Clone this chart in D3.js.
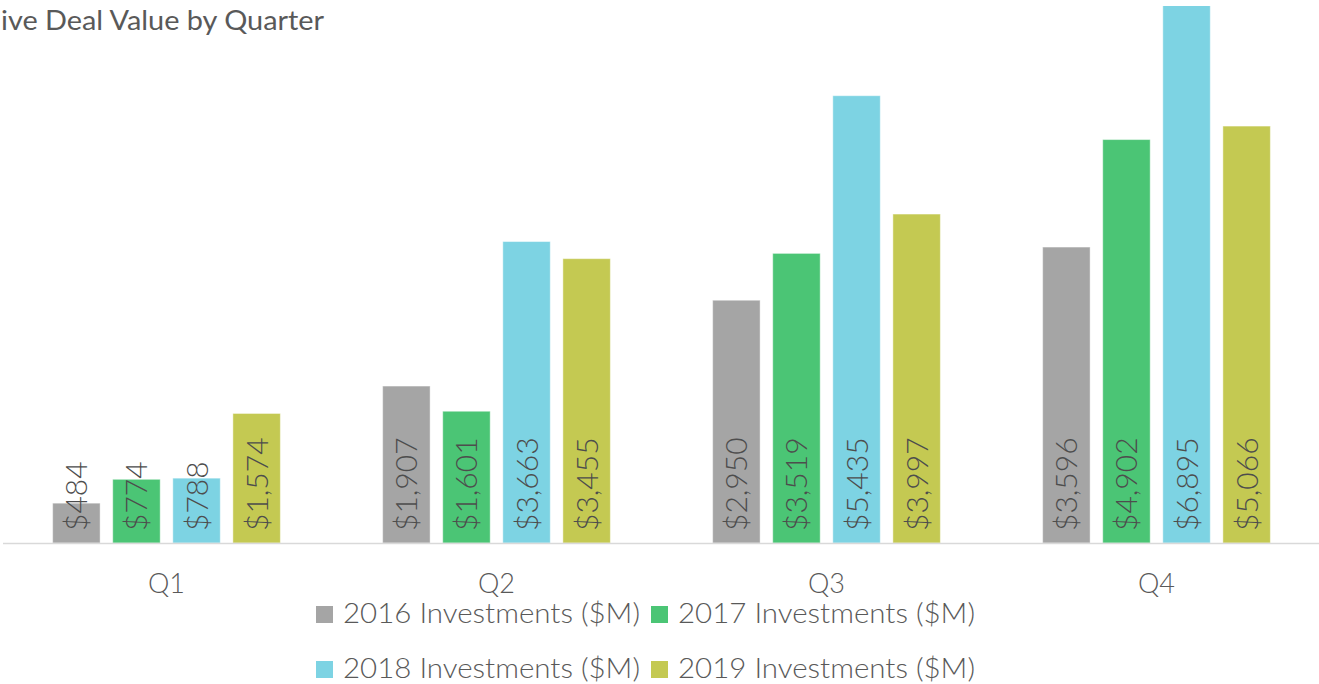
<!DOCTYPE html>
<html>
<head>
<meta charset="utf-8">
<script src="https://cdn.jsdelivr.net/npm/d3@7"></script>
<style>
  body { margin: 0; background: #fff; }
  svg { display: block; font-family: "Lato", "Open Sans", sans-serif; }
</style>
</head>
<body>
<div id="chart-area"></div>
<script>
// Deal value by quarter, one series per year
var quarters = ['Q1', 'Q2', 'Q3', 'Q4'];
var seriesNames = ['2016 Investments ($M)', '2017 Investments ($M)', '2018 Investments ($M)', '2019 Investments ($M)'];
var values2016 = [484, 1907, 2950, 3596];
var values2017 = [774, 1601, 3519, 4902];
var values2018 = [788, 3663, 5435, 6895];
var values2019 = [1574, 3455, 3997, 5066];
var seriesColors = ['#a5a5a5', '#4bc575', '#7dd3e3', '#c4c952'];

var allValues = [values2016, values2017, values2018, values2019];

var outerWidth = 1319;
var outerHeight = 684;
var baseY = 543;
var plotTop = 6;

var svg = d3.select('#chart-area').append('svg')
            .attr('width', outerWidth)
            .attr('height', outerHeight);

// clip so the tallest bar stops at the plot top
svg.append('clipPath').attr('id', 'plot-clip')
   .append('rect')
   .attr('x', 0).attr('y', plotTop)
   .attr('width', outerWidth).attr('height', baseY - plotTop + 1);

var x0 = d3.scaleBand()
           .domain(quarters)
           .range([1.5, 1321.5])
           .paddingInner(0.31)
           .paddingOuter(0.155);

var x1 = d3.scaleBand()
           .domain(seriesNames)
           .range([0, x0.bandwidth()])
           .paddingInner(0.21);

var yScale = d3.scaleLinear()
               .domain([0, 6525])
               .range([baseY, plotTop]);

var color = d3.scaleOrdinal().domain(seriesNames).range(seriesColors);

// title (the visible part of the cropped original)
svg.append('text')
   .attr('x', 1)
   .attr('y', 30)
   .attr('font-size', '27px')
   .attr('fill', '#595959')
   .attr('textLength', 323)
   .attr('lengthAdjust', 'spacingAndGlyphs')
   .text('ive Deal Value by Quarter');

var data = [];
quarters.forEach(function(q, qi) {
  seriesNames.forEach(function(s, si) {
    data.push({ quarter: q, series: s, value: allValues[si][qi] });
  });
});

var barsG = svg.append('g').attr('clip-path', 'url(#plot-clip)');

barsG.selectAll('rect')
     .data(data)
     .enter().append('rect')
     .attr('x', function(d) { return x0(d.quarter) + x1(d.series); })
     .attr('y', function(d) { return yScale(d.value); })
     .attr('width', x1.bandwidth())
     .attr('height', function(d) { return baseY - yScale(d.value); })
     .attr('fill', function(d) { return color(d.series); })
     .attr('stroke', '#ffffff')
     .attr('stroke-opacity', 0.45)
     .attr('stroke-width', 1);

// baseline
svg.append('line')
   .attr('x1', 3).attr('x2', outerWidth)
   .attr('y1', baseY + 0.5).attr('y2', baseY + 0.5)
   .attr('stroke', '#d9d9d9')
   .attr('stroke-width', 1.5);

// value labels, rotated inside the bars
var fmt = d3.format(',');
svg.selectAll('.value-label')
   .data(data)
   .enter().append('text')
   .attr('class', 'value-label')
   .attr('transform', function(d) {
     var cx = x0(d.quarter) + x1(d.series) + x1.bandwidth() / 2;
     return 'translate(' + (cx + 11) + ',' + (baseY - 12) + ') rotate(-90)';
   })
   .attr('font-size', '30px')
   .attr('font-weight', 300)
   .attr('fill', '#4d4d4d')
   .text(function(d) { return '$' + fmt(d.value); });

// quarter axis labels
var xAxis = d3.axisBottom(x0).tickSize(0).tickPadding(0);
var xAxisG = svg.append('g')
                .attr('transform', 'translate(0,' + baseY + ')')
                .call(xAxis);
xAxisG.select('.domain').remove();
xAxisG.selectAll('text')
      .attr('y', 50)
      .attr('dy', 0)
      .attr('font-family', '"Lato", "Open Sans", sans-serif')
      .attr('font-size', '27px')
      .attr('font-weight', 300)
      .attr('fill', '#595959');

// legend, two rows of two
var legendX = [316, 651];
var legendY = [606, 661];
var legendG = svg.append('g');
seriesNames.forEach(function(s, i) {
  var row = legendG.append('g')
                   .attr('transform', 'translate(' + legendX[i % 2] + ',' + legendY[Math.floor(i / 2)] + ')');
  row.append('rect')
     .attr('width', 17)
     .attr('height', 17)
     .attr('fill', color(s));
  row.append('text')
     .attr('x', 27)
     .attr('y', 17)
     .attr('font-size', '27px')
     .attr('font-weight', 300)
     .attr('fill', '#595959')
     .attr('textLength', 297)
     .attr('lengthAdjust', 'spacingAndGlyphs')
     .text(s);
});
</script>
</body>
</html>
